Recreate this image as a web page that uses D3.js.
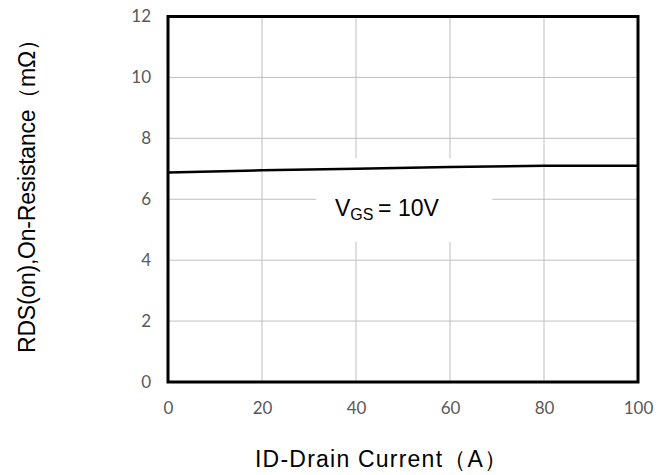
<!DOCTYPE html>
<html>
<head>
<meta charset="utf-8">
<script src="https://cdn.jsdelivr.net/npm/d3@7"></script>
<style>
  body { margin: 0; background: #fff; }
  .tick text { font-family: Lato, "Liberation Sans", sans-serif; font-size: 17px; fill: #595959; }
</style>
</head>
<body>
<div id="chart"></div>
<script>
// drain current (A) and on-resistance (mOhm) at VGS = 10V
var currents = [0, 20, 40, 60, 80, 100]
var rdsOn = [6.88, 6.95, 7.0, 7.06, 7.1, 7.1]
var xTicks = [0, 20, 40, 60, 80, 100]
var yTicks = [0, 2, 4, 6, 8, 10, 12]

var w = 670,
    h = 475,
    margin = { left: 168, right: 32, top: 16.5, bottom: 93 },
    pw = w - margin.left - margin.right,
    ph = h - margin.top - margin.bottom

var svg = d3.select('#chart').append('svg')
    .attr('width', w)
    .attr('height', h)

var g = svg.append('g')
    .attr('transform', 'translate(' + margin.left + ',' + margin.top + ')')

var x = d3.scaleLinear().domain([0, 100]).range([0, pw])
var y = d3.scaleLinear().domain([0, 12]).range([ph, 0])

// сетка
g.selectAll('line.vgrid').data(xTicks).enter().append('line')
    .attr('class', 'vgrid')
    .attr('x1', function (d) { return x(d) }).attr('x2', function (d) { return x(d) })
    .attr('y1', 0).attr('y2', ph)
    .attr('stroke', '#bfbfbf').attr('stroke-width', 1)
g.selectAll('line.hgrid').data(yTicks).enter().append('line')
    .attr('class', 'hgrid')
    .attr('y1', function (d) { return y(d) }).attr('y2', function (d) { return y(d) })
    .attr('x1', 0).attr('x2', pw)
    .attr('stroke', '#bfbfbf').attr('stroke-width', 1)

// оси (только подписи)
var xAxis = g.append('g')
    .attr('transform', 'translate(0,' + ph + ')')
    .call(d3.axisBottom(x).tickValues(xTicks).tickSize(0).tickPadding(20))
xAxis.select('.domain').remove()

var yAxis = g.append('g')
    .call(d3.axisLeft(y).tickValues(yTicks).tickSize(0).tickPadding(17))
yAxis.select('.domain').remove()

// белая подложка под подписью
g.append('rect')
    .attr('x', x(31.5)).attr('y', y(7.35))
    .attr('width', x(69) - x(31.5)).attr('height', y(4.6) - y(7.35))
    .attr('fill', '#fff')

// кривая
var line = d3.line()
    .x(function (d, i) { return x(currents[i]) })
    .y(function (d) { return y(d) })
g.append('path')
    .datum(rdsOn)
    .attr('d', line)
    .attr('fill', 'none')
    .attr('stroke', '#000')
    .attr('stroke-width', 2.5)

// рамка
g.append('rect')
    .attr('width', pw).attr('height', ph)
    .attr('fill', 'none')
    .attr('stroke', '#000')
    .attr('stroke-width', 3)

// подпись VGS
var lbl = g.append('text')
    .attr('x', 335 - margin.left).attr('y', 216 - margin.top)
    .attr('font-family', 'Liberation Sans, Arial, sans-serif')
    .attr('font-size', 23)
    .attr('fill', '#000')
lbl.append('tspan').text('V')
lbl.append('tspan').attr('font-size', 16).attr('dy', 4).text('GS')
lbl.append('tspan').attr('dy', -4).text('\u2009= 10V')

// заголовки осей
svg.append('text')
    .attr('x', 255)
    .attr('y', 467)
    .attr('font-family', 'Liberation Sans, Arial, sans-serif')
    .attr('font-size', 23)
    .attr('textLength', 252)
    .attr('lengthAdjust', 'spacing')
    .text('ID-Drain Current（A）')

svg.append('text')
    .attr('transform', 'translate(35,353) rotate(-90)')
    .attr('font-family', 'Liberation Sans, Arial, sans-serif')
    .attr('font-size', 23)
    .attr('textLength', 325)
    .attr('lengthAdjust', 'spacing')
    .text('RDS(on),On-Resistance（mΩ）')
</script>
</body>
</html>
